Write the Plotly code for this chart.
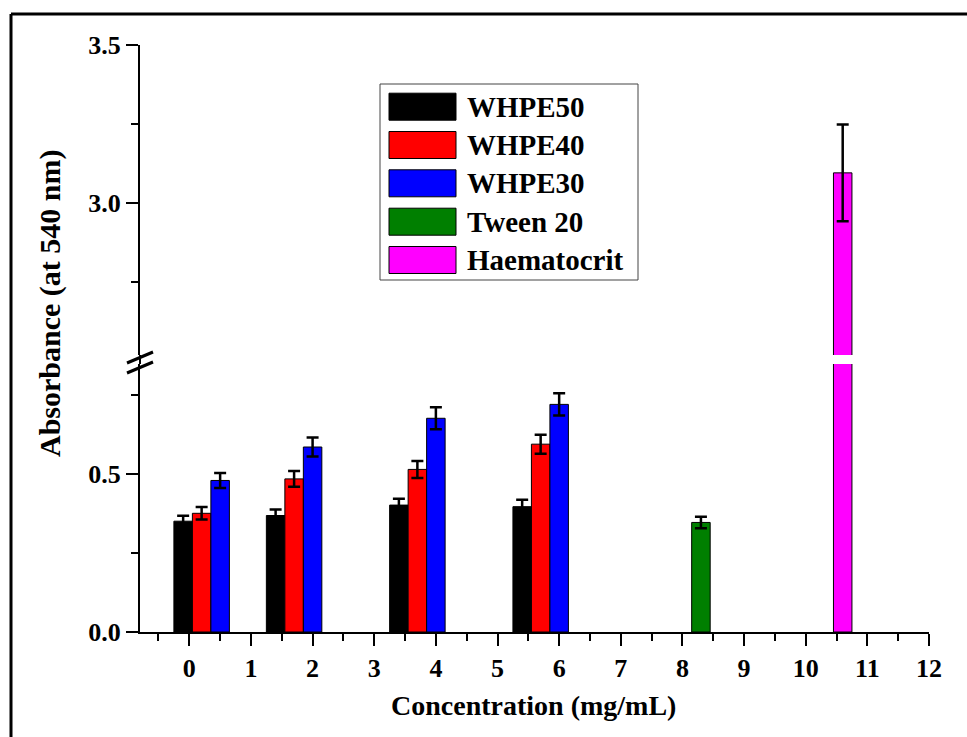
import plotly.graph_objects as go

# ---------------- data ----------------
series_names = ["WHPE50", "WHPE40", "WHPE30", "Tween 20", "Haematocrit"]
series_colors = ["#000000", "#FF0000", "#0000FF", "#007F00", "#FF00FF"]

x_whpe50 = [-0.1, 1.4, 3.4, 5.4]
y_whpe50 = [0.351, 0.369, 0.402, 0.397]
e_whpe50 = [0.017, 0.019, 0.020, 0.022]

x_whpe40 = [0.2, 1.7, 3.7, 5.7]
y_whpe40 = [0.376, 0.485, 0.515, 0.595]
e_whpe40 = [0.020, 0.025, 0.027, 0.030]

x_whpe30 = [0.5, 2.0, 4.0, 6.0]
y_whpe30 = [0.480, 0.586, 0.677, 0.721]
e_whpe30 = [0.024, 0.030, 0.035, 0.035]

x_tween = [8.3]
y_tween = [0.347]
e_tween = [0.018]

x_haem = [10.6]
y_haem = [3.095]
e_haem = [0.153]

x_ticks = list(range(0, 13))
x_minor = [i + 0.5 for i in range(-1, 12)]
y_low_ticks = [0.0, 0.5]
y_low_minor = [0.25, 0.75]
y_up_ticks = [3.0, 3.5]
y_up_minor = [2.75, 3.25]

# ---------------- layout geometry (pixels) ----------------
W, H = 967, 737
L, R, T, B = 140, 929, 45, 632
GAP_TOP, GAP_BOT = 355, 364  # axis break (pixel rows)


def px(x):
    return (x - L) / (R - L)


def py(y):
    return (B - y) / (B - T)


FONT = "Liberation Serif"

fig = go.Figure()

all_series = [
    (x_whpe50, y_whpe50, e_whpe50),
    (x_whpe40, y_whpe40, e_whpe40),
    (x_whpe30, y_whpe30, e_whpe30),
    (x_tween, y_tween, e_tween),
    (x_haem, y_haem, e_haem),
]

for (xs, ys, es), name, col in zip(all_series, series_names, series_colors):
    for yax in ("y", "y2"):
        fig.add_trace(go.Bar(
            x=xs, y=ys, width=0.3, name=name, yaxis=yax, xaxis="x",
            marker=dict(color=col, line=dict(color="black", width=1)),
            error_y=dict(type="data", array=es, visible=True,
                         color="black", thickness=2.5, width=6),
            showlegend=False,
        ))

tickfont = dict(family=FONT, size=26, color="black", weight="bold")

fig.update_layout(
    width=W, height=H, autosize=False,
    margin=dict(l=L, r=W - R, t=T, b=H - B, pad=0),
    paper_bgcolor="white", plot_bgcolor="white",
    barmode="overlay",
    showlegend=False,
    xaxis=dict(
        range=[-0.8, 12], tickvals=x_ticks, ticktext=[str(v) for v in x_ticks],
        ticks="outside", ticklen=12, tickwidth=2, tickcolor="black",
        minor=dict(tickvals=x_minor, ticks="outside", ticklen=7, tickwidth=2, tickcolor="black"),
        showline=True, linewidth=2, linecolor="black", showgrid=False, zeroline=False,
        tickfont=tickfont, anchor="y",
    ),
    yaxis=dict(
        domain=[0, py(GAP_BOT)], range=[0, (B - GAP_BOT) / 315.7],
        tickvals=y_low_ticks, ticktext=["0.0", "0.5"],
        ticks="outside", ticklen=12, tickwidth=2, tickcolor="black",
        minor=dict(tickvals=y_low_minor, ticks="outside", ticklen=7, tickwidth=2, tickcolor="black"),
        showline=True, linewidth=2, linecolor="black", showgrid=False, zeroline=False,
        tickfont=tickfont, anchor="x",
    ),
    yaxis2=dict(
        domain=[py(GAP_TOP), 1], range=[3.5 - (GAP_TOP - T) / 315.7, 3.5],
        tickvals=y_up_ticks, ticktext=["3.0", "3.5"],
        ticks="outside", ticklen=12, tickwidth=2, tickcolor="black",
        minor=dict(tickvals=y_up_minor, ticks="outside", ticklen=7, tickwidth=2, tickcolor="black"),
        showline=True, linewidth=2, linecolor="black", showgrid=False, zeroline=False,
        tickfont=tickfont, anchor="x",
    ),
)

shapes = []
# axis line through the break
shapes.append(dict(type="line", xref="paper", yref="paper",
                   x0=px(L), x1=px(L), y0=py(GAP_BOT), y1=py(GAP_TOP),
                   line=dict(color="black", width=2)))
# break slashes
for dy in (0, 10):
    shapes.append(dict(type="line", xref="paper", yref="paper",
                       x0=px(127), y0=py(363 + dy), x1=px(153), y1=py(352 + dy),
                       line=dict(color="black", width=3)))
# outer frame (left & top edges)
shapes.append(dict(type="line", xref="paper", yref="paper",
                   x0=px(11), x1=px(11), y0=py(14), y1=py(H + 5),
                   line=dict(color="black", width=3)))
shapes.append(dict(type="line", xref="paper", yref="paper",
                   x0=px(11), x1=px(W + 5), y0=py(14), y1=py(14),
                   line=dict(color="black", width=3)))

# legend box
LG_L, LG_T, LG_R, LG_B = 380, 84, 638, 280
shapes.append(dict(type="rect", xref="paper", yref="paper",
                   x0=px(LG_L), x1=px(LG_R), y0=py(LG_B), y1=py(LG_T),
                   line=dict(color="#444444", width=1), fillcolor="white", layer="above"))
annotations = []
row_c = [106.7, 145.0, 183.3, 221.7, 260.0]
for cy, name, col in zip(row_c, series_names, series_colors):
    shapes.append(dict(type="rect", xref="paper", yref="paper",
                       x0=px(389), x1=px(456), y0=py(cy + 13.5), y1=py(cy - 13.5),
                       line=dict(color="black", width=1), fillcolor=col, layer="above"))
    annotations.append(dict(xref="paper", yref="paper", x=px(465), y=py(cy),
                            xanchor="left", yanchor="middle", showarrow=False,
                            text=name,
                            font=dict(family=FONT, size=29, color="black", weight="bold")))

# axis titles
annotations.append(dict(xref="paper", yref="paper", x=px(533), y=py(705),
                        xanchor="center", yanchor="middle", showarrow=False,
                        text="Concentration (mg/mL)",
                        font=dict(family=FONT, size=28, color="black", weight="bold")))
annotations.append(dict(xref="paper", yref="paper", x=px(50), y=py(303),
                        xanchor="center", yanchor="middle", showarrow=False,
                        text="Absorbance (at 540 nm)", textangle=-90,
                        font=dict(family=FONT, size=30, color="black", weight="bold")))

fig.update_layout(shapes=shapes, annotations=annotations)

fig.write_html("out.html")
